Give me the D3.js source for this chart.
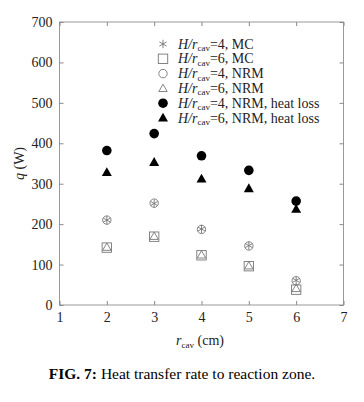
<!DOCTYPE html>
<html><head><meta charset="utf-8">
<script src="https://cdn.jsdelivr.net/npm/d3@7"></script>
<style>body{margin:0;background:#fff}svg{display:block}</style>
</head><body>
<script>
const radii = [2, 3, 4, 5, 6];
const mc4 = [210, 251, 188, 147, 61];
const mc6 = [142, 169, 123, 96, 38];
const nrm4 = [210, 252, 187, 146, 60];
const nrm6 = [143, 170, 124, 97, 41];
const loss4 = [382, 424, 369, 333, 257];
const loss6 = [328, 353, 312, 288, 237];
const xTicks = [1, 2, 3, 4, 5, 6, 7];
const yTicks = [0, 100, 200, 300, 400, 500, 600, 700];
const legendLabels = [["4", "MC"], ["6", "MC"], ["4", "NRM"], ["6", "NRM"], ["4", "NRM, heat loss"], ["6", "NRM, heat loss"]];
const caption = ["FIG. 7:", " Heat transfer rate to reaction zone."];

const W = 364, H = 402;
const m = {l: 59.5, r: 343.5, t: 22, b: 305};
const svg = d3.select("body").append("svg").attr("width", W).attr("height", H);
const x = d3.scaleLinear().domain([1, 7]).range([m.l, m.r]);
const y = d3.scaleLinear().domain([0, 700]).range([m.b, m.t]);
const serif = "'Liberation Serif', 'DejaVu Serif', serif";
const grey = "#777";

// frame
svg.append("rect").attr("x", m.l).attr("y", m.t).attr("width", m.r - m.l).attr("height", m.b - m.t)
  .attr("fill", "none").attr("stroke", "#999").attr("stroke-width", 1);

const tl = 4;
const axB = d3.axisBottom(x).tickValues(xTicks).tickSize(-tl).tickPadding(7).tickFormat(d3.format("d"));
const axT = d3.axisTop(x).tickValues(xTicks).tickSize(-tl).tickFormat("");
const axL = d3.axisLeft(y).tickValues(yTicks).tickSize(-tl).tickPadding(7).tickFormat(d3.format("d"));
const axR = d3.axisRight(y).tickValues(yTicks).tickSize(-tl).tickFormat("");
function styleAx(g){ g.select(".domain").remove(); g.selectAll(".tick line").attr("stroke", "#888");
  g.selectAll(".tick text").attr("fill", "#222").style("font-family", serif).style("font-size", "14px"); }
svg.append("g").attr("transform", `translate(0,${m.b})`).call(axB).call(styleAx);
svg.append("g").attr("transform", `translate(0,${m.t})`).call(axT).call(styleAx);
svg.append("g").attr("transform", `translate(${m.l},0)`).call(axL).call(styleAx);
svg.append("g").attr("transform", `translate(${m.r},0)`).call(axR).call(styleAx);

// markers
function marker(g, type, cx, cy) {
  const s = 4.2;
  if (type === "star") {
    for (let a = 0; a < 3; a++) {
      const ang = Math.PI / 2 + a * Math.PI / 3;
      g.append("line").attr("x1", cx - s * Math.cos(ang)).attr("y1", cy - s * Math.sin(ang))
        .attr("x2", cx + s * Math.cos(ang)).attr("y2", cy + s * Math.sin(ang))
        .attr("stroke", grey).attr("stroke-width", 0.9);
    }
  } else if (type === "square") {
    g.append("rect").attr("x", cx - s - 0.5).attr("y", cy - s - 0.5).attr("width", 2 * s + 1).attr("height", 2 * s + 1)
      .attr("fill", "none").attr("stroke", grey).attr("stroke-width", 0.9);
  } else if (type === "circle") {
    g.append("circle").attr("cx", cx).attr("cy", cy).attr("r", s).attr("fill", "none").attr("stroke", grey).attr("stroke-width", 0.9);
  } else if (type === "tri") {
    g.append("path").attr("d", `M${cx},${cy - s}L${cx + s},${cy + s * 0.75}L${cx - s},${cy + s * 0.75}Z`)
      .attr("fill", "none").attr("stroke", grey).attr("stroke-width", 0.9);
  } else if (type === "fcircle") {
    g.append("circle").attr("cx", cx).attr("cy", cy).attr("r", 4.8).attr("fill", "#000");
  } else if (type === "ftri") {
    g.append("path").attr("d", `M${cx},${cy - 5.2}L${cx + 5},${cy + 3.6}L${cx - 5},${cy + 3.6}Z`).attr("fill", "#000");
  }
}
const series = [[mc4, "star"], [mc6, "square"], [nrm4, "circle"], [nrm6, "tri"], [loss4, "fcircle"], [loss6, "ftri"]];
const pg = svg.append("g");
series.forEach(([vals, type]) => vals.forEach((v, i) => marker(pg, type, x(radii[i]), y(v))));

// legend
const lg = svg.append("g");
legendLabels.forEach((lab, i) => {
  const ly = 44 + i * 14.8;
  marker(lg, series[i][1], 163, ly);
  const t = lg.append("text").attr("x", 178).attr("y", ly + 4.5).attr("fill", "#222")
    .style("font-family", serif).style("font-size", "14px").attr("textLength", null);
  t.append("tspan").style("font-style", "italic").text("H/r");
  t.append("tspan").attr("dy", 2.5).style("font-size", "9px").text("cav");
  t.append("tspan").attr("dy", -2.5).text("=" + lab[0] + ", " + lab[1]);
});

// axis labels
const xl = svg.append("text").attr("x", 200).attr("y", 345).attr("text-anchor", "middle").attr("fill", "#222")
  .style("font-family", serif).style("font-size", "14px");
xl.append("tspan").style("font-style", "italic").text("r");
xl.append("tspan").attr("dy", 2.5).style("font-size", "9px").text("cav");
xl.append("tspan").attr("dy", -2.5).text(" (cm)");

svg.append("text").attr("transform", `translate(24,${(m.t + m.b) / 2}) rotate(-90)`).attr("text-anchor", "middle")
  .attr("fill", "#222").style("font-family", serif).style("font-size", "14px")
  .html('<tspan font-style="italic">q</tspan> (W)');

// caption
const cap = svg.append("text").attr("x", 182).attr("y", 379).attr("text-anchor", "middle").attr("fill", "#000")
  .style("font-family", serif).style("font-size", "15.5px");
cap.append("tspan").style("font-weight", "bold").text(caption[0]);
cap.append("tspan").text(caption[1]);
</script>
</body></html>
